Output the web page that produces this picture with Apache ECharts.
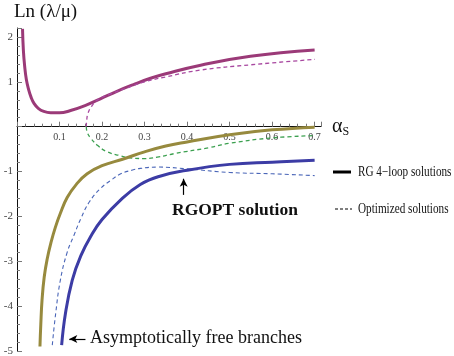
<!DOCTYPE html>
<html>
<head>
<meta charset="utf-8">
<script src="https://cdn.jsdelivr.net/npm/echarts@6/dist/echarts.min.js"></script>
<style>
  html, body { margin: 0; padding: 0; background: #fff; }
  #chart { width: 454px; height: 356px; }
</style>
</head>
<body>
<div id="chart"></div>
<script>
// upper branch, RG 4-loop (solid magenta)
const upperRG = [[0.013, 2.18], [0.015, 1.7], [0.018, 1.35], [0.022, 1.05], [0.027, 0.84], [0.033, 0.66],
  [0.04, 0.52], [0.05, 0.41], [0.063, 0.34], [0.079, 0.31], [0.1, 0.31], [0.126, 0.36], [0.16, 0.47],
  [0.196, 0.62], [0.235, 0.79], [0.274, 0.94], [0.314, 1.08], [0.35, 1.18], [0.432, 1.37], [0.549, 1.57], [0.7, 1.71]];
// optimized, upper part (dashed magenta)
const upperOpt = [[0.163, 0], [0.164, 0.15], [0.167, 0.3], [0.175, 0.45], [0.19, 0.6], [0.22, 0.73], [0.26, 0.87],
  [0.3, 1.0], [0.35, 1.11], [0.43, 1.26], [0.55, 1.38], [0.7, 1.5]];
// optimized, lower part (dashed green)
const lowerOpt = [[0.163, 0], [0.165, -0.12], [0.173, -0.25], [0.19, -0.42], [0.21, -0.55], [0.24, -0.64],
  [0.27, -0.7], [0.3, -0.71], [0.33, -0.68], [0.37, -0.6], [0.45, -0.47], [0.5, -0.37], [0.6, -0.25], [0.7, -0.2]];
// asymptotically free branch 1 (olive)
const afOlive = [[0.054, -4.9], [0.056, -4.4], [0.059, -3.85], [0.064, -3.35], [0.071, -2.95], [0.08, -2.58],
  [0.09, -2.25], [0.102, -1.93], [0.118, -1.58], [0.14, -1.28], [0.165, -1.05], [0.2, -0.87], [0.25, -0.72],
  [0.3, -0.56], [0.35, -0.43], [0.4, -0.34], [0.5, -0.18], [0.6, -0.07], [0.7, -0.01]];
// optimized, asymptotically free (dashed blue)
const afOpt = [[0.083, -4.87], [0.091, -4.16], [0.102, -3.42], [0.118, -2.8], [0.134, -2.42], [0.15, -2.05],
  [0.17, -1.68], [0.196, -1.38], [0.22, -1.2], [0.244, -1.05], [0.27, -0.97], [0.29, -0.93], [0.33, -0.9],
  [0.4, -0.94], [0.5, -1.02], [0.6, -1.05], [0.7, -1.09]];
// RG 4-loop, asymptotically free (solid blue)
const afRG = [[0.105, -4.87], [0.114, -4.16], [0.13, -3.42], [0.15, -2.88], [0.175, -2.42], [0.2, -2.07],
  [0.244, -1.63], [0.29, -1.29], [0.334, -1.11], [0.4, -0.97], [0.5, -0.84], [0.6, -0.79], [0.7, -0.75]];

const rgoptArrow = [[0.392, -1.52], [0.392, -1.16]];
const afArrow = [[0.161, -4.73], [0.123, -4.73]];
const legendNames = ['RG 4\u2212loop solutions', 'Optimized solutions'];

const serif = 'Liberation Serif';
let myChart = echarts.init(document.getElementById('chart'));

function curve(name, data, color, width, dashed) {
  return {
    name: name,
    type: 'line',
    data: data,
    smooth: 0.45,
    symbol: 'none',
    silent: true,
    lineStyle: { color: color, width: width, type: dashed ? [4, 3] : 'solid' },
  };
}

function arrow(pts) {
  return [{ coord: pts[0] }, { coord: pts[1] }];
}

let option = {
  animation: false,
  grid: { left: 17, right: 133, top: 28, bottom: 5, containLabel: false, outerBoundsMode: 'none' },
  xAxis: {
    type: 'value',
    min: 0,
    max: 0.715,
    interval: 0.1,
    name: '{a|\u03b1}{s|S}',
    nameLocation: 'end',
    nameGap: 11,
    nameTextStyle: {
      rich: {
        a: { fontFamily: serif, fontSize: 20, color: '#111' },
        s: { fontFamily: serif, fontSize: 12, color: '#111', padding: [10, 0, 0, 0] },
      },
    },
    axisLine: { onZero: true, lineStyle: { color: '#111', width: 1 } },
    axisTick: { inside: true, length: 5, lineStyle: { color: '#777' } },
    minorTick: { show: true, splitNumber: 5, length: 3, lineStyle: { color: '#777' } },
    splitLine: { show: false },
    axisLabel: {
      // labels sit just under the zero line, as in the original
      margin: -219,
      fontFamily: serif,
      fontSize: 10,
      color: '#444',
      formatter: (v) => (v > 0.05 && Math.abs(v * 10 - Math.round(v * 10)) < 1e-6 ? v.toFixed(1) : ''),
    },
  },
  yAxis: {
    type: 'value',
    min: -5,
    max: 2.2,
    interval: 1,
    name: 'Ln (\u03bb/\u03bc)',
    nameLocation: 'end',
    nameGap: 6,
    nameTextStyle: { fontFamily: serif, fontSize: 19, color: '#111', align: 'left', padding: [0, 0, 0, -3] },
    axisLine: { onZero: false, lineStyle: { color: '#111', width: 1 } },
    axisTick: { inside: true, length: 5, lineStyle: { color: '#777' } },
    minorTick: { show: true, splitNumber: 5, length: 3, lineStyle: { color: '#777' } },
    splitLine: { show: false },
    axisLabel: {
      margin: 4,
      fontFamily: serif,
      fontSize: 11,
      color: '#444',
      formatter: (v) => (Number.isInteger(v) && v !== 0 ? String(v) : ''),
    },
  },
  series: [
    curve('upperRG', upperRG, '#9b3a78', 3, false),
    curve('upperOpt', upperOpt, '#a848a0', 1.3, true),
    curve('lowerOpt', lowerOpt, '#3ca050', 1.3, true),
    curve('afOlive', afOlive, '#978a3e', 3, false),
    curve('afOpt', afOpt, '#4a66b8', 1.1, true),
    curve('afRG', afRG, '#3c3ca5', 3, false),
    {
      name: 'arrows',
      type: 'line',
      data: [],
      markLine: {
        silent: true,
        symbol: ['none', 'arrow'],
        symbolSize: [6, 8],
        label: { show: false },
        lineStyle: { color: '#000', width: 1.2, type: 'solid' },
        data: [arrow(rgoptArrow), arrow(afArrow)],
      },
    },
  ],
  graphic: [
    {
      type: 'text',
      left: 172,
      top: 201,
      style: { text: 'RGOPT solution', font: 'bold 17.5px "Liberation Serif"', fill: '#111' },
    },
    {
      type: 'text',
      left: 90,
      top: 329,
      style: { text: 'Asymptotically free branches', font: '18px "Liberation Serif"', fill: '#111' },
    },
    // legend (condensed serif, like the original)
    { type: 'line', shape: { x1: 333, y1: 172, x2: 351, y2: 172 }, style: { stroke: '#000', lineWidth: 3 } },
    { type: 'line', shape: { x1: 335, y1: 209, x2: 352, y2: 209 }, style: { stroke: '#000', lineWidth: 1.2, lineDash: [3, 2] } },
    {
      type: 'text', x: 358, y: 172, scaleX: 0.8,
      style: { text: legendNames[0], font: '14px "Liberation Serif"', fill: '#111', verticalAlign: 'middle' },
    },
    {
      type: 'text', x: 358, y: 209, scaleX: 0.8,
      style: { text: legendNames[1], font: '14px "Liberation Serif"', fill: '#111', verticalAlign: 'middle' },
    },
  ],
};
myChart.setOption(option);
</script>
</body>
</html>
